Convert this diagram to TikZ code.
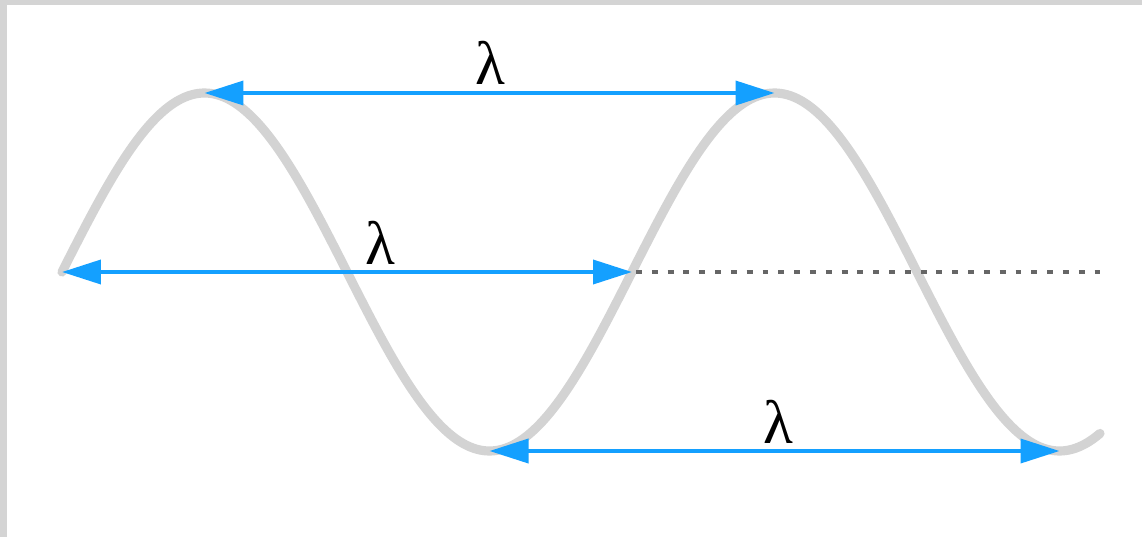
\documentclass[tikz,border=0pt]{standalone}
\usepackage{xcolor}
\usepackage{fontspec}
\newfontfamily\greekserif{Liberation Serif}
\usetikzlibrary{arrows.meta}
\definecolor{wavegray}{HTML}{D3D3D3}
\definecolor{arrowblue}{HTML}{14A0FF}
\definecolor{framegray}{HTML}{D4D4D4}

\begin{document}
\begin{tikzpicture}[x=0.02cm,y=-0.02cm,
  wave/.style={wavegray,line width=5.2pt,line cap=round},
  lamarrow/.style={arrowblue,line width=2.1pt,{Triangle[length=7.8mm,width=4.8mm]}-{Triangle[length=7.8mm,width=4.8mm]}},
  lamlabel/.style={font=\greekserif\fontsize{35}{35}\selectfont,inner sep=0pt}]
\useasboundingbox (0,0) rectangle (1142,537);
\fill[white] (0,0) rectangle (1142,537);
\fill[framegray] (0,0) rectangle (1142,5);
\fill[framegray] (0,0) rectangle (7,537);
% the wave
\draw[wave] plot[domain=62:1100,samples=200,smooth] (\x,{272-179*sin((\x-62)*0.6315789)});
% ends of the three wavelengths
\coordinate (crestA) at (204.5,93);
\coordinate (crestB) at (774.5,93);
\coordinate (zeroA) at (62,272);
\coordinate (zeroB) at (632,272);
\coordinate (troughA) at (489.5,451);
\coordinate (troughB) at (1059.5,451);
\coordinate (axisend) at (1100,272);
\draw[dash pattern=on 3.4pt off 5.6pt,black!60,line width=1.8pt] (zeroB) ++(4,0) -- (axisend);
\draw[lamarrow] (crestA) -- (crestB);
\draw[lamarrow] (zeroA) -- (zeroB);
\draw[lamarrow] (troughA) -- (troughB);
\node[lamlabel] (lamtop) at (490,63) {λ};
\node[lamlabel] (lammid) at (380,243) {λ};
\node[lamlabel] (lambot) at (778,422) {λ};
\end{tikzpicture}
\end{document}
